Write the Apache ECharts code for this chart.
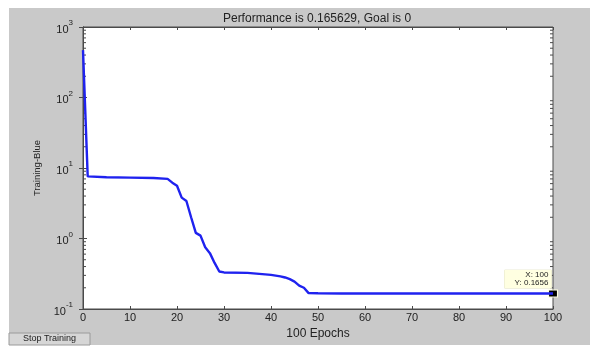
<!DOCTYPE html>
<html>
<head>
<meta charset="utf-8">
<script src="https://cdn.jsdelivr.net/npm/echarts@6/dist/echarts.min.js"></script>
<style>html,body{margin:0;padding:0;background:#fff;}#c{width:590px;height:347px;}</style>
</head>
<body>
<div id="c"></div>
<script>
// Data
const epochs = [0, 1, 5, 10, 15, 18, 19, 20, 21, 22, 23, 24, 25, 26, 27, 28, 29, 30, 35, 40, 42, 43, 44, 45, 46, 47, 48, 50, 55, 60, 70, 80, 90, 100];
const performance = [470, 7.6, 7.4, 7.3, 7.2, 7.0, 6.2, 5.6, 3.8, 3.4, 2.0, 1.2, 1.1, 0.75, 0.62, 0.45, 0.34, 0.33, 0.325, 0.305, 0.29, 0.28, 0.265, 0.245, 0.215, 0.2, 0.168, 0.167, 0.166, 0.1656, 0.1656, 0.1656, 0.1656, 0.1656];
const xTicks = [0, 10, 20, 30, 40, 50, 60, 70, 80, 90, 100];
const yDecades = [0.1, 1, 10, 100, 1000];
const yMinorTicks = [0.2,0.3,0.4,0.5,0.6,0.7,0.8,0.9,2,3,4,5,6,7,8,9,20,30,40,50,60,70,80,90,200,300,400,500,600,700,800,900];
const titleText = 'Performance is 0.165629, Goal is 0';
const xName = '100 Epochs';
const yName = 'Training-Blue';
const tipPoint = [100, 0.1656];

const chart = echarts.init(document.getElementById('c'), null, {renderer: 'canvas'});
const axisColor = '#4a4a4a';
const font = 'Liberation Sans';

function yLabel(v) {
  const e = Math.round(Math.log10(v));
  return '{b|10}{s|' + e + '}';
}

const option = {
  animation: false,
  backgroundColor: '#ffffff',
  graphic: [
    {type: 'rect', z: -10, shape: {x: 9, y: 8, width: 581, height: 337}, style: {fill: '#c9c9c9'}, silent: true},
    {type: 'rect', z: 10, shape: {x: 9, y: 333, width: 81, height: 12}, style: {fill: '#d6d6d6', stroke: '#9a9a9a', lineWidth: 1}, silent: true},
    {type: 'text', z: 11, x: 49.5, y: 339, style: {text: 'Stop Training', fill: '#222', font: '9px "Liberation Sans"', align: 'center', verticalAlign: 'middle'}, silent: true}
  ],
  title: {
    text: titleText,
    left: 317, top: 13, textAlign: 'center', padding: 0,
    textStyle: {fontFamily: font, fontSize: 12, fontWeight: 'normal', color: '#222'}
  },
  grid: {left: 83, right: 37, top: 27, bottom: 38, show: true, backgroundColor: '#ffffff', borderColor: axisColor, borderWidth: 1},
  xAxis: [
    {
      type: 'value', min: 0, max: 100, interval: 10,
      name: xName, nameLocation: 'middle', nameGap: 11,
      nameTextStyle: {fontFamily: font, fontSize: 12, color: '#222'},
      axisLine: {show: true, lineStyle: {color: axisColor}},
      axisTick: {show: true, inside: true, length: 3, lineStyle: {color: axisColor}},
      axisLabel: {fontFamily: font, fontSize: 11, color: '#222', margin: 3},
      splitLine: {show: false}
    },
    {
      type: 'value', min: 0, max: 100, interval: 10, position: 'top',
      axisLine: {show: true, lineStyle: {color: axisColor}},
      axisTick: {show: true, inside: true, length: 3, lineStyle: {color: axisColor}},
      axisLabel: {show: false}, splitLine: {show: false}
    }
  ],
  yAxis: [
    {
      type: 'log', logBase: 10, min: 0.1, max: 1000,
      name: yName, nameLocation: 'middle', nameGap: 36, nameRotate: 90,
      nameTextStyle: {fontFamily: font, fontSize: 9.5, color: '#222'},
      axisLine: {show: true, lineStyle: {color: axisColor}},
      axisTick: {show: true, inside: true, length: 4, lineStyle: {color: axisColor}},
      axisLabel: {
        margin: 10, formatter: yLabel,
        rich: {
          b: {fontFamily: font, fontSize: 11, color: '#222', verticalAlign: 'bottom', lineHeight: 16},
          s: {fontFamily: font, fontSize: 8, color: '#222', verticalAlign: 'top', lineHeight: 16}
        }
      },
      splitLine: {show: false}
    },
    {
      type: 'log', logBase: 10, min: 0.1, max: 1000, position: 'right',
      axisLine: {show: true, lineStyle: {color: axisColor}},
      axisTick: {show: true, inside: true, length: 4, lineStyle: {color: axisColor}},
      axisLabel: {show: false}, splitLine: {show: false}
    }
  ],
  series: [
    {
      type: 'custom', silent: true, clip: false, z: 3,
      data: yMinorTicks.map(v => [0, v]),
      encode: {x: 0, y: 1},
      renderItem: function (params, api) {
        const v = api.value(1);
        const pl = api.coord([0, v]);
        const pr = api.coord([100, v]);
        return {type: 'group', children: [
          {type: 'line', shape: {x1: pl[0], y1: pl[1], x2: pl[0] + 3, y2: pl[1]}, style: {stroke: axisColor, lineWidth: 1}},
          {type: 'line', shape: {x1: pr[0], y1: pr[1], x2: pr[0] - 3, y2: pr[1]}, style: {stroke: axisColor, lineWidth: 1}}
        ]};
      }
    },
    {
      type: 'line', showSymbol: false, z: 5,
      data: epochs.map((e, i) => [e, performance[i]]),
      lineStyle: {color: '#1f22ef', width: 2.4},
      itemStyle: {color: '#1f22ef'},
      markPoint: {
        silent: true,
        data: [{coord: tipPoint, symbol: 'rect', symbolSize: [9, 7]}],
        itemStyle: {color: '#000', borderColor: '#ffffe1', borderWidth: 1},
        label: {
          show: true,
          formatter: 'X: ' + tipPoint[0] + '\nY: ' + tipPoint[1],
          position: [3.5, -19.5], align: 'right', verticalAlign: 'top',
          backgroundColor: '#ffffe1', padding: [1, 3, 1, 10],
          borderColor: '#e6e6c8', borderWidth: 0.5,
          fontFamily: font, fontSize: 8, color: '#222', lineHeight: 8
        }
      }
    }
  ]
};
chart.setOption(option);
</script>
</body>
</html>
